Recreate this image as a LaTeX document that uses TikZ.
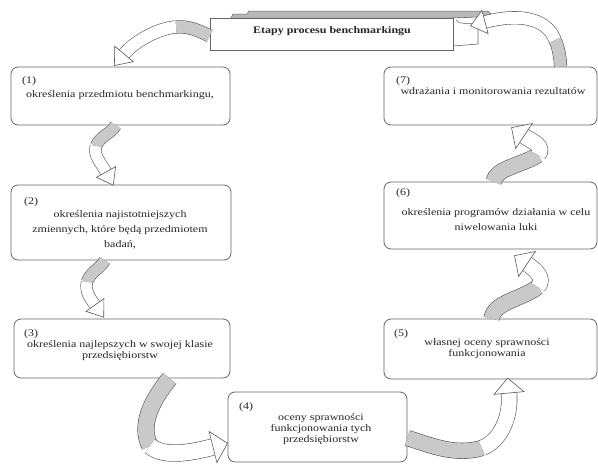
\documentclass[tikz,border=0pt]{standalone}
\usepackage{fontspec}
\setmainfont{Liberation Serif}[FakeStretch=1.2]
\usetikzlibrary{calc}
\tikzset{
  box/.style={draw=black!60, line width=0.8pt, rounded corners=7pt, fill=white, inner sep=0pt},
  num/.style={anchor=west, inner sep=0pt, font=\fontsize{10}{11}\selectfont, text=black!85},
  txt/.style={align=center, inner sep=0pt, font=\fontsize{10}{11}\selectfont, text=black!85},
  txtl/.style={align=center, inner sep=0pt, font=\fontsize{10}{15}\selectfont, text=black!85},
  arrowline/.style={draw=black!65, line width=0.6pt},
}
% #1 start #2 c1 #3 c2 #4 mid #5 c3 #6 c4 #7 end of shaft #8 ribbon width
\newcommand\blockarrow[8]{%
  \draw[arrowline, double=gray!42, double distance=#8] #1 .. controls #2 and #3 .. #4;
  \draw[arrowline, double=white, double distance=#8] #4 .. controls #5 and #6 .. #7;
  \draw[arrowline, fill=white, line join=miter] ($#7!#8!90:#6$) -- ($#7!-15pt!#6$) -- ($#7!#8!-90:#6$) -- cycle;
}
\begin{document}
\begin{tikzpicture}[x=1pt, y=-1pt]
\fill[white] (0,0) rectangle (598,464);
\useasboundingbox (0,0) rectangle (598,464);

% title scroll
\filldraw[fill=gray!55, draw=black!60, line width=0.5pt] (231,18) -- (233,14) -- (247,14) -- (249,11) -- (488,11) -- (491,14) -- (478,18) -- cycle;
\filldraw[fill=white, draw=black!60, line width=0.6pt] (453,18) -- (478,17) -- (478,44) -- (453,46);
\draw[black!60, line width=0.5pt] (456,20) .. controls (462,26) and (468,22) .. (474,24);
\node[draw=black!60, fill=white, line width=0.8pt, minimum width=243pt, minimum height=32pt, inner sep=0pt] (title) at (331.5,34) {};
\node[font=\bfseries\fontsize{10}{12}\selectfont, inner sep=0pt, text=black!85] (ttl) at (332,31) {Etapy procesu benchmarkingu};

% boxes
\node[box, minimum width=219pt, minimum height=58pt] (b1) at (120.5,96) {};
\node[box, minimum width=213pt, minimum height=58pt] (b7) at (490.5,96) {};
\node[box, minimum width=220pt, minimum height=75pt] (b2) at (121,222.5) {};
\node[box, minimum width=213pt, minimum height=67pt] (b6) at (490.5,215.5) {};
\node[box, minimum width=216pt, minimum height=59pt] (b3) at (122,348.5) {};
\node[box, minimum width=213pt, minimum height=60pt] (b5) at (490.5,349) {};
\node[box, minimum width=179pt, minimum height=70pt] (b4) at (317.5,427) {};

% texts
\node[num] (n1) at (22,81) {(1)};
\node[txt] (t1) at (120,95) {określenia przedmiotu benchmarkingu,};
\node[num] (n7) at (396,81) {(7)};
\node[txt] (t7) at (493,91) {wdrażania i monitorowania rezultatów};
\node[num] (n2) at (24,202) {(2)};
\node[txtl] (t2) at (120,230) {określenia najistotniejszych\\zmiennych, które będą przedmiotem\\badań,};
\node[num] (n6) at (396,193) {(6)};
\node[txtl] (t6) at (496,219.5) {określenia programów działania w celu\\niwelowania luki};
\node[num] (n3) at (24,334) {(3)};
\node[txt] (t3) at (120,350.5) {określenia najlepszych w swojej klasie\\przedsiębiorstw};
\node[num] (n5) at (394,334) {(5)};
\node[txt] (t5) at (487,349) {własnej oceny sprawności\\funkcjonowania};
\node[num] (n4) at (239,407) {(4)};
\node[txt] (t4) at (321,429) {oceny sprawności\\funkcjonowania tych\\przedsiębiorstw};

% curved block arrows
\blockarrow{($(title.west)+(0,2)$)}{(198,30)}{(188,26)}{(176,27)}{(158,28)}{(134,42)}{(124,54)}{12pt}
\blockarrow{($(b1.south west)+(105,0)$)}{(112,133)}{(100,136)}{(96,146)}{(93,155)}{(101,163)}{(106,172)}{11pt}
\blockarrow{($(b2.south west)+(94,0)$)}{(101,268)}{(90,272)}{(87,282)}{(85,292)}{(90,298)}{(95,305)}{11pt}
\blockarrow{($(b3.south west)+(156,0)$)}{(152,400)}{(139,425)}{(150,446)}{(165,459)}{(197,451)}{(213,447)}{16pt}
\blockarrow{($(b4.east)+(0,11)$)}{(430,445)}{(455,456)}{(482,448)}{(502,440)}{(511,415)}{(509,393)}{15pt}
\blockarrow{($(b5.north west)+(108,0)$)}{(494,302)}{(520,300)}{(538,287)}{(545,278)}{(536,270)}{(527,264)}{15pt}
\blockarrow{($(b6.north west)+(110,0)$)}{(496,168)}{(520,166)}{(538,155)}{(545,146)}{(533,142)}{(524,136)}{15pt}
\blockarrow{($(b7.north west)+(177,0)$)}{(560,55)}{(558,46)}{(555,40)}{(546,16)}{(515,14)}{(485,22)}{12pt}
\end{tikzpicture}
\end{document}
